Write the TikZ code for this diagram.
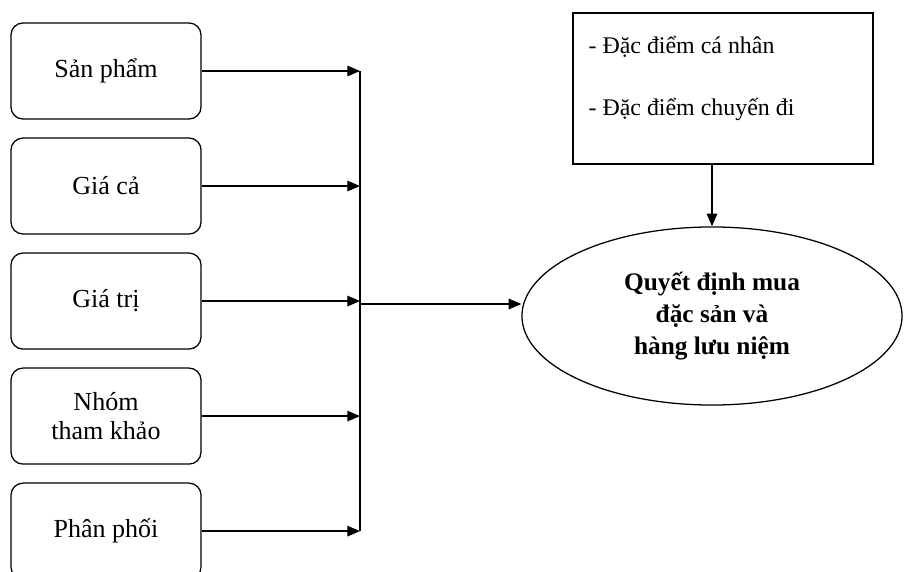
\documentclass[tikz,border=0pt]{standalone}
\usepackage{fontspec}
\setmainfont{Liberation Serif}
\usetikzlibrary{arrows.meta,shapes.geometric}

\begin{document}
\begin{tikzpicture}[->,>={Triangle[length=9pt,width=7.5pt]},x=0.025cm,y=-0.025cm,line width=0.9pt,
                    node distance=2.875cm]
  \tikzstyle{factor}=[draw,rounded corners=0.3cm,minimum width=4.75cm,minimum height=2.4cm,
                      align=center,font=\fontsize{18.5}{21.3}\selectfont]
  \tikzstyle{trait}=[anchor=west,inner sep=0pt,font=\fontsize{17}{20}\selectfont]
  \useasboundingbox (0,0) rectangle (904,572);

  \node[factor] (F1) at (106,71)  {Sản phẩm};
  \node[factor] (F2) [below of=F1] {Giá cả};
  \node[factor] (F3) [below of=F2] {Giá trị};
  \node[factor] (F4) [below of=F3] {Nhóm\\tham khảo};
  \node[factor] (F5) [below of=F4] {Phân phối};

  \coordinate (bus) at (360,304);

  \node[draw,minimum width=7.5cm,minimum height=3.775cm] (traits) at (723,88.5) {};
  \node[trait] (T1) at (588,47)  {- Đặc điểm cá nhân};
  \node[trait] (T2) at (588,109) {- Đặc điểm chuyến đi};

  \node[draw,ellipse,minimum width=9.5cm,minimum height=4.45cm,inner sep=0pt,align=center,
        font=\bfseries\fontsize{18}{22.8}\selectfont] (buy) at (712,316)
        {Quyết định mua\\đặc sản và\\hàng lưu niệm};

  \path (F1) edge (F1.east -| bus)
        (F2) edge (F2.east -| bus)
        (F3) edge (F3.east -| bus)
        (F4) edge (F4.east -| bus)
        (F5) edge (F5.east -| bus);
  \draw[-] (F1.east -| bus) -- (F5.east -| bus);
  \path (bus) edge (buy.west |- bus)
        (buy.north |- traits.south) edge (buy.north);
\end{tikzpicture}
\end{document}
